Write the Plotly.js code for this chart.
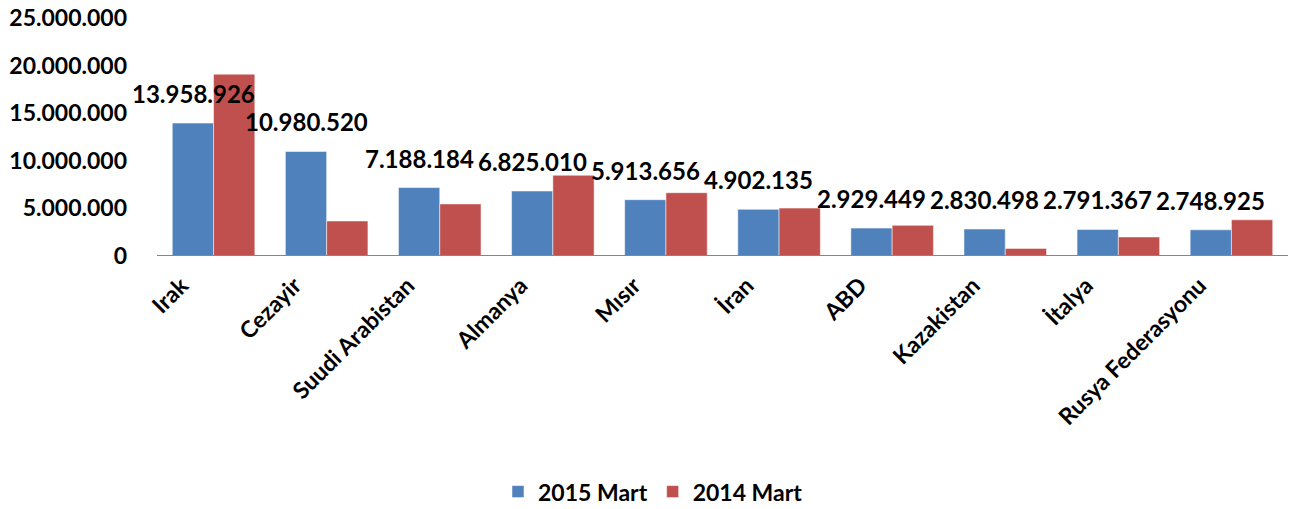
<!DOCTYPE html>
<html>
<head>
<meta charset="utf-8">
<script src="https://cdn.plot.ly/plotly-3.0.1.min.js"></script>
<style>html,body{margin:0;padding:0;background:#fff;}#chart{width:1300px;height:509px;}</style>
</head>
<body>
<div id="chart"></div>
<script>
const categories = ["Irak", "Cezayir", "Suudi Arabistan", "Almanya", "Mısır", "İran", "ABD", "Kazakistan", "İtalya", "Rusya Federasyonu"];
const values2015 = [13958926, 10980520, 7188184, 6825010, 5913656, 4902135, 2929449, 2830498, 2791367, 2748925];
const values2014 = [19100000, 3680000, 5470000, 8480000, 6650000, 5030000, 3220000, 800000, 2000000, 3800000];
const seriesNames = ["2015 Mart", "2014 Mart"];
const yTicks = [0, 5000000, 10000000, 15000000, 20000000, 25000000];

const FONT = "Lato, 'Open Sans', sans-serif";

const traces = [
  {type: "bar", name: seriesNames[0], x: categories, y: values2015,
   marker: {color: "#4F81BD", line: {color: "rgba(255,255,255,0.5)", width: 1}}, hoverinfo: "skip"},
  {type: "bar", name: seriesNames[1], x: categories, y: values2014,
   marker: {color: "#C0504D", line: {color: "rgba(255,255,255,0.5)", width: 1}}, hoverinfo: "skip"}
];

const fmt = v => String(v).replace(/\B(?=(\d{3})+(?!\d))/g, ".");
const annotations = categories.map((c, i) => ({
  x: c, y: values2015[i], xref: "x", yref: "y",
  text: fmt(values2015[i]), showarrow: false,
  xanchor: "center", yanchor: "bottom", xshift: -20.5, yshift: 13,
  font: {family: FONT, size: 24, color: "#000", weight: "bold"}
}));

const layout = {
  width: 1300, height: 509,
  margin: {l: 157, r: 12, t: 18, b: 253, autoexpand: false},
  paper_bgcolor: "#fff", plot_bgcolor: "#fff",
  separators: ",.",
  barmode: "group", bargap: 0.27, bargroupgap: 0,
  font: {family: FONT, color: "#000"},
  xaxis: {
    automargin: false, range: [-0.5, categories.length - 0.5],
    tickangle: -45, showline: false,
    showgrid: false, zeroline: false,
    ticks: "outside", ticklen: 6, tickcolor: "rgba(0,0,0,0)",
    ticklabelshift: -32,
    tickfont: {family: FONT, size: 23, color: "#000", weight: "bold"}
  },
  yaxis: {
    automargin: false,
    range: [0, 25000000], tickvals: yTicks, ticktext: yTicks.map(fmt),
    showgrid: false, zeroline: false, showline: false,
    ticks: "", ticklabelstandoff: 29,
    tickfont: {family: FONT, size: 23, color: "#000", weight: "bold"}
  },
  shapes: [{type: "line", xref: "paper", yref: "y", x0: 0, x1: 1, y0: 0, y1: 0,
            line: {color: "#868686", width: 2}, layer: "above"}],
  showlegend: true,
  legend: {orientation: "h", x: 0.3015, xanchor: "left", y: -0.99, yanchor: "middle",
    font: {family: FONT, size: 23, color: "#000", weight: "bold"}, itemwidth: 30},
  annotations: annotations
};

Plotly.newPlot("chart", traces, layout, {staticPlot: true, displayModeBar: false});
</script>
</body>
</html>
